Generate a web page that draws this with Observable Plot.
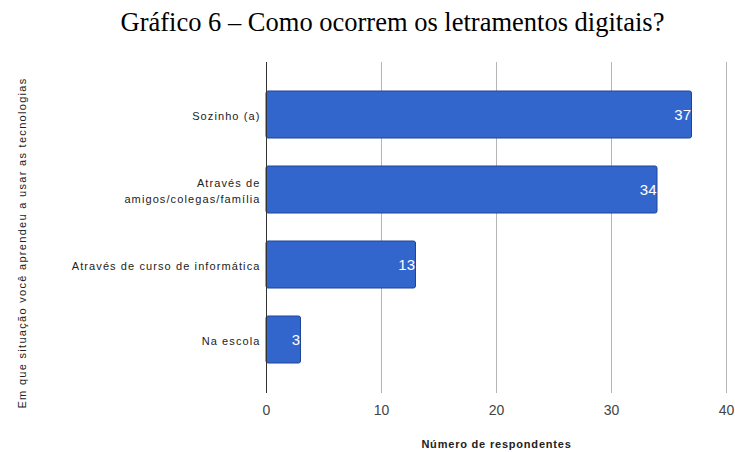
<!DOCTYPE html>
<html>
<head>
<meta charset="utf-8">
<script src="https://cdn.jsdelivr.net/npm/d3@7"></script>
<script src="https://cdn.jsdelivr.net/npm/@observablehq/plot@0.6"></script>
<style>
  html, body { margin: 0; padding: 0; background: #fff; }
  #title { height: 50px; width: 735px; font-family: "Liberation Serif", "Times New Roman", serif; font-size: 26.5px; color: #000; text-align: center; line-height: 44px; padding-left: 50px; box-sizing: border-box; white-space: nowrap; }
  .ylab text { letter-spacing: 1.1px; }
  .ytitle text { letter-spacing: 1.3px; }
  .xtitle text { letter-spacing: 0.8px; }
</style>
</head>
<body>
<div id="title">Gráfico 6 – Como ocorrem os letramentos digitais?</div>
<div id="chart"></div>
<script>
const categories = ["Sozinho (a)", "Através de\namigos/colegas/família", "Através de curso de informática", "Na escola"];
const values = [37, 34, 13, 3];
const xTicks = [0, 10, 20, 30, 40];
const xTitle = "Número de respondentes";
const yTitle = "Em que situação você aprendeu a usar as tecnologias";

const data = categories.map((c, i) => ({category: c, value: values[i]}));

const chart = Plot.plot({
  width: 735,
  height: 402,
  marginLeft: 266,
  marginRight: 9,
  marginTop: 12,
  marginBottom: 59,
  style: {fontFamily: "Arial, 'Liberation Sans', sans-serif", background: "#fff"},
  x: {domain: [0, 40], ticks: xTicks},
  y: {domain: categories, padding: 0.37},
  marks: [
    Plot.gridX(xTicks.filter(d => d > 0), {stroke: "#b5b5b5", strokeOpacity: 1, strokeWidth: 1}),
    Plot.barX(data, {x: "value", y: "category", fill: "#3366cc", stroke: "#1f4599", strokeWidth: 1, rx: 2}),
    Plot.ruleX([0], {stroke: "#333", strokeWidth: 1}),
    Plot.text(data, {x: "value", y: "category", text: d => String(d.value), textAnchor: "end", dx: -1, fill: "#fff", fontSize: 15}),
    Plot.axisX({ticks: xTicks, tickSize: 0, tickPadding: 12, fontSize: 14, color: "#444", label: null}),
    Plot.axisY({tickSize: 0, tickPadding: 6, fontSize: 11, color: "#222", label: null, lineHeight: 1.45, className: "ylab"}),
    Plot.text([xTitle], {frameAnchor: "bottom", dy: 54, fontSize: 11, fill: "#222", fontWeight: "bold", className: "xtitle"}),
    Plot.text([yTitle], {frameAnchor: "left", rotate: -90, dx: -244, dy: 15, textAnchor: "middle", fontSize: 11, fill: "#222", className: "ytitle"})
  ]
});
document.getElementById("chart").appendChild(chart);
</script>
</body>
</html>
